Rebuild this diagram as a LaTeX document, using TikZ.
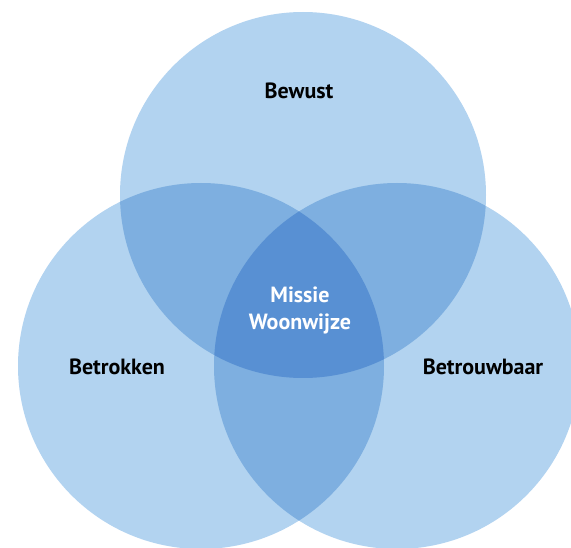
\documentclass[tikz,border=0pt]{standalone}
\usepackage{fontspec}
\setmainfont{PT Sans}
\definecolor{lightblue}{HTML}{B2D3F0}
\definecolor{midblue}{HTML}{7EAFE0}
\definecolor{darkblue}{HTML}{5890D3}
\begin{document}
\begin{tikzpicture}[x=1pt,y=-1pt,
  lbl/.style={font=\fontsize{22}{26}\selectfont\bfseries, text=black, inner sep=0pt},
  wlbl/.style={font=\fontsize{22}{27}\selectfont\bfseries, text=white, inner sep=0pt, align=center}]
\useasboundingbox (0,0) rectangle (571,548);
\clip (0,0) rectangle (571,548);
\def\R{183}
\coordinate (T) at (303,195);
\coordinate (L) at (201,366);
\coordinate (Rc) at (397,366);
% single circles
\fill[lightblue] (T) circle (\R);
\fill[lightblue] (L) circle (\R);
\fill[lightblue] (Rc) circle (\R);
% pairwise overlaps
\begin{scope}
  \clip (T) circle (\R);
  \fill[midblue] (L) circle (\R);
  \fill[midblue] (Rc) circle (\R);
\end{scope}
\begin{scope}
  \clip (L) circle (\R);
  \fill[midblue] (Rc) circle (\R);
\end{scope}
% triple overlap
\begin{scope}
  \clip (T) circle (\R);
  \clip (L) circle (\R);
  \fill[darkblue] (Rc) circle (\R);
\end{scope}
\node[lbl] (bewust) at (299,91) {Bewust};
\node[lbl] (betrokken) at (117,367) {Betrokken};
\node[lbl] (betrouwbaar) at (483,367) {Betrouwbaar};
\node[wlbl] (missie) at (300,310) {Missie\\Woonwijze};
\end{tikzpicture}
\end{document}
